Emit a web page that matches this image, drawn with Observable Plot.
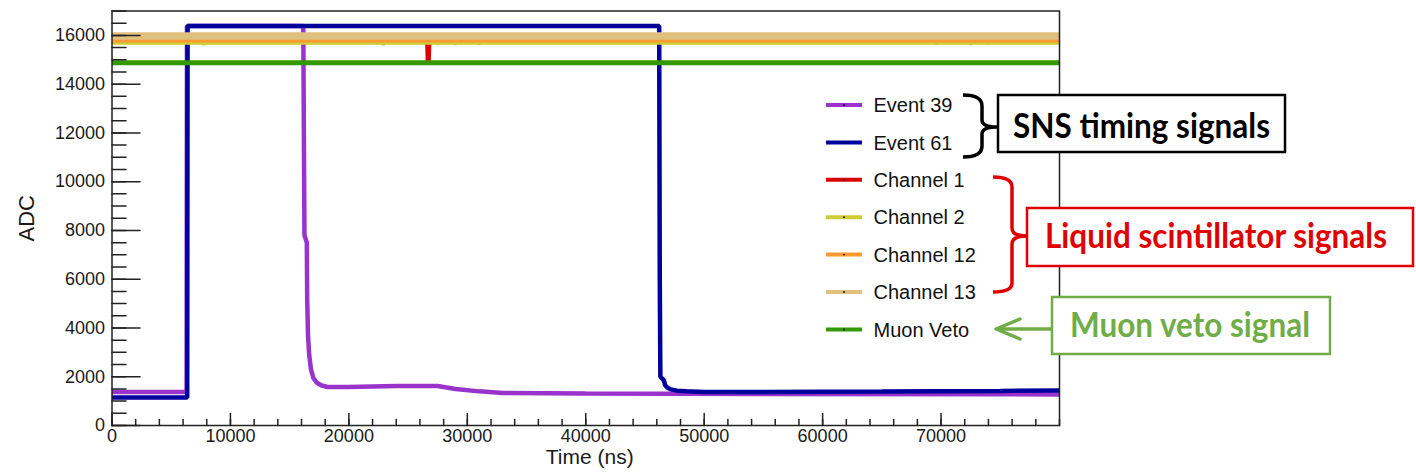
<!DOCTYPE html>
<html>
<head>
<meta charset="utf-8">
<script src="https://cdn.jsdelivr.net/npm/d3@7"></script>
<script src="https://cdn.jsdelivr.net/npm/@observablehq/plot@0.6"></script>
<style>
  html, body { margin: 0; padding: 0; background: #fff; }
  #chart { width: 1416px; height: 472px; }
</style>
</head>
<body>
<div id="chart"></div>
<script>
// ---- data ----
const seriesNames = ["Event 39", "Event 61", "Channel 1", "Channel 2", "Channel 12", "Channel 13", "Muon Veto"];

const event39Time = [0, 6300, 6330, 16150, 16200, 16250, 16450, 16480, 16550, 16650, 16800, 17000, 17300, 17700, 18200, 20000, 24000, 27500, 29000, 31000, 33000, 40000, 55000, 80000];
const event39Adc  = [1370, 1370, 16380, 16380, 12000, 7800, 7500, 5200, 3700, 2900, 2300, 1950, 1750, 1640, 1580, 1580, 1620, 1620, 1500, 1400, 1330, 1310, 1295, 1275];

const event61Time = [0, 6350, 6380, 46200, 46250, 46300, 46600, 46700, 46900, 47200, 47700, 48500, 50000, 55000, 65000, 75000, 80000];
const event61Adc  = [1150, 1150, 16383, 16383, 6000, 2000, 1850, 1650, 1550, 1480, 1430, 1400, 1370, 1370, 1390, 1420, 1440];

const channel1Time = [0, 26600, 26650, 26750, 26800, 80000];
const channel1Adc  = [15800, 15800, 14950, 14950, 15800, 15800];

const channel2Time = [0, 7700, 7750, 7800, 22850, 22900, 22950, 27450, 27500, 27550, 28950, 29000, 29050, 30950, 31000, 31050, 69550, 69600, 69650, 72450, 72500, 72550, 73950, 74000, 74050, 80000];
const channel2Adc  = [15690, 15690, 15600, 15690, 15690, 15600, 15690, 15690, 15620, 15690, 15690, 15620, 15690, 15690, 15630, 15690, 15690, 15630, 15690, 15690, 15620, 15690, 15690, 15630, 15690, 15690];

const channel12Time = [0, 80000];
const channel12Adc  = [15800, 15800];

const channel13Time = [0, 80000];
const channel13Adc  = [15970, 15970];

const muonVetoTime = [0, 80000];
const muonVetoAdc  = [14880, 14880];

const xTickValues = [0, 10000, 20000, 30000, 40000, 50000, 60000, 70000];
const yTickValues = [0, 2000, 4000, 6000, 8000, 10000, 12000, 14000, 16000];

// ---- styles ----
const seriesColors = ["#9a33cc", "#00009a", "#dd0000", "#cccc33", "#ff9933", "#dfc07e", "#339900"];
const seriesWidths = [4.5, 4.5, 4, 3.5, 4.5, 7.5, 5];

const seriesTimes = [event39Time, event61Time, channel1Time, channel2Time, channel12Time, channel13Time, muonVetoTime];
const seriesAdcs  = [event39Adc, event61Adc, channel1Adc, channel2Adc, channel12Adc, channel13Adc, muonVetoAdc];

const rows = [];
seriesNames.forEach((name, i) => {
  seriesTimes[i].forEach((t, j) => rows.push({series: name, t, v: seriesAdcs[i][j]}));
});

const xMinor = d3.range(0, 80001, 2000);
const yMinor = d3.range(0, 17001, 500);

const tickRight = {draw(ctx, l) { ctx.moveTo(0, 0); ctx.lineTo(l, 0); }};
const tickUp = {draw(ctx, l) { ctx.moveTo(0, 0); ctx.lineTo(0, -l); }};

const lineMarks = seriesNames.map((name, i) =>
  Plot.line(rows.filter(d => d.series === name), {
    x: "t", y: "v", stroke: seriesColors[i], strokeWidth: seriesWidths[i],
    strokeLinejoin: "miter", strokeLinecap: "butt"
  })
);

const chart = Plot.plot({
  width: 1416,
  height: 472,
  marginLeft: 111.5,
  marginRight: 357,
  marginTop: 10.5,
  marginBottom: 47,
  x: {domain: [0, 80000]},
  y: {domain: [0, 17000]},
  style: {fontFamily: "'Liberation Sans', Arial, Helvetica, sans-serif", fontSize: "18px", color: "#1a1a1a", background: "#fff", overflow: "visible"},
  marks: [
    ...lineMarks,
    Plot.vector(yMinor, {y: d => d, frameAnchor: "left", length: 14, anchor: "start", shape: tickRight, stroke: "#222", strokeWidth: 1.5}),
    Plot.vector(yTickValues, {y: d => d, frameAnchor: "left", length: 28, anchor: "start", shape: tickRight, stroke: "#222", strokeWidth: 1.5}),
    Plot.vector(xMinor, {x: d => d, frameAnchor: "bottom", length: 6, anchor: "start", shape: tickUp, stroke: "#222", strokeWidth: 1.5}),
    Plot.vector(xTickValues, {x: d => d, frameAnchor: "bottom", length: 12, anchor: "start", shape: tickUp, stroke: "#222", strokeWidth: 1.5}),
    Plot.axisX(xTickValues, {tickSize: 0, tickPadding: 4, tickFormat: d3.format("d"), label: null, fontSize: 18}),
    Plot.axisY(yTickValues, {tickSize: 0, tickPadding: 7, tickFormat: d3.format("d"), label: null, fontSize: 18}),
    Plot.frame({stroke: "#222", strokeWidth: 1.5}),
    Plot.text(["ADC"], {text: d => d, frameAnchor: "left", dx: -85, rotate: -90, textAnchor: "middle", fontSize: 22}),
    Plot.text(["Time (ns)"], {text: d => d, frameAnchor: "bottom", dx: 4, dy: 38, textAnchor: "middle", fontSize: 21})
  ]
});

document.getElementById("chart").appendChild(chart);

// ---- legend (inside plot, no border) ----
const svg = d3.select(chart);
const lg = svg.append("g").attr("font-family", "'Liberation Sans', Arial, sans-serif").attr("text-anchor", "start");
seriesNames.forEach((name, i) => {
  const cy = 105 + i * 37.4;
  lg.append("line").attr("x1", 826).attr("x2", 862).attr("y1", cy).attr("y2", cy)
    .attr("stroke", seriesColors[i]).attr("stroke-width", 4);
  lg.append("circle").attr("cx", 844).attr("cy", cy).attr("r", 0.9).attr("fill", "#000");
  lg.append("text").attr("x", 873.5).attr("y", cy).attr("dy", "0.36em").attr("text-anchor", "start")
    .attr("font-size", 20).attr("fill", "#111").text(name);
});

// ---- annotations ----
const ann = svg.append("g").attr("font-family", "Lato, 'Open Sans', sans-serif").attr("font-weight", "bold");

// SNS timing signals
ann.append("path")
  .attr("d", "M963,95 Q982,95 982,106 L982,120 Q982,127 997,127 Q982,127 982,134 L982,146 Q982,157 963,157")
  .attr("fill", "none").attr("stroke", "#000").attr("stroke-width", 3.5);
ann.append("rect").attr("x", 998).attr("y", 95).attr("width", 287).attr("height", 57)
  .attr("fill", "#fff").attr("stroke", "#000").attr("stroke-width", 2.5);
ann.append("text").attr("x", 1141.5).attr("y", 138).attr("text-anchor", "middle")
  .attr("font-size", 34).attr("fill", "#000")
  .attr("textLength", 257).attr("lengthAdjust", "spacingAndGlyphs").text("SNS timing signals");

// Liquid scintillator signals
ann.append("path")
  .attr("d", "M993,177 Q1012,177 1012,187 L1012,228 Q1012,236 1027,236 Q1012,236 1012,244 L1012,283 Q1012,292 993,292")
  .attr("fill", "none").attr("stroke", "#e00000").attr("stroke-width", 3.5);
ann.append("rect").attr("x", 1027).attr("y", 208).attr("width", 386).attr("height", 58)
  .attr("fill", "#fff").attr("stroke", "#e00000").attr("stroke-width", 2.5);
ann.append("text").attr("x", 1216).attr("y", 248).attr("text-anchor", "middle")
  .attr("font-size", 34).attr("fill", "#e00000")
  .attr("textLength", 342).attr("lengthAdjust", "spacingAndGlyphs").text("Liquid scintillator signals");

// Muon veto signal
ann.append("line").attr("x1", 1052).attr("x2", 996).attr("y1", 329).attr("y2", 329)
  .attr("stroke", "#70ad47").attr("stroke-width", 3.5);
ann.append("path").attr("d", "M1020,319 L996,329 L1020,339")
  .attr("fill", "none").attr("stroke", "#70ad47").attr("stroke-width", 3.5).attr("stroke-linecap", "round").attr("stroke-linejoin", "round");
ann.append("rect").attr("x", 1052).attr("y", 297).attr("width", 278).attr("height", 57)
  .attr("fill", "#fff").attr("stroke", "#70ad47").attr("stroke-width", 2.5);
ann.append("text").attr("x", 1190).attr("y", 337).attr("text-anchor", "middle")
  .attr("font-size", 34).attr("fill", "#70ad47")
  .attr("textLength", 240).attr("lengthAdjust", "spacingAndGlyphs").text("Muon veto signal");
</script>
</body>
</html>
